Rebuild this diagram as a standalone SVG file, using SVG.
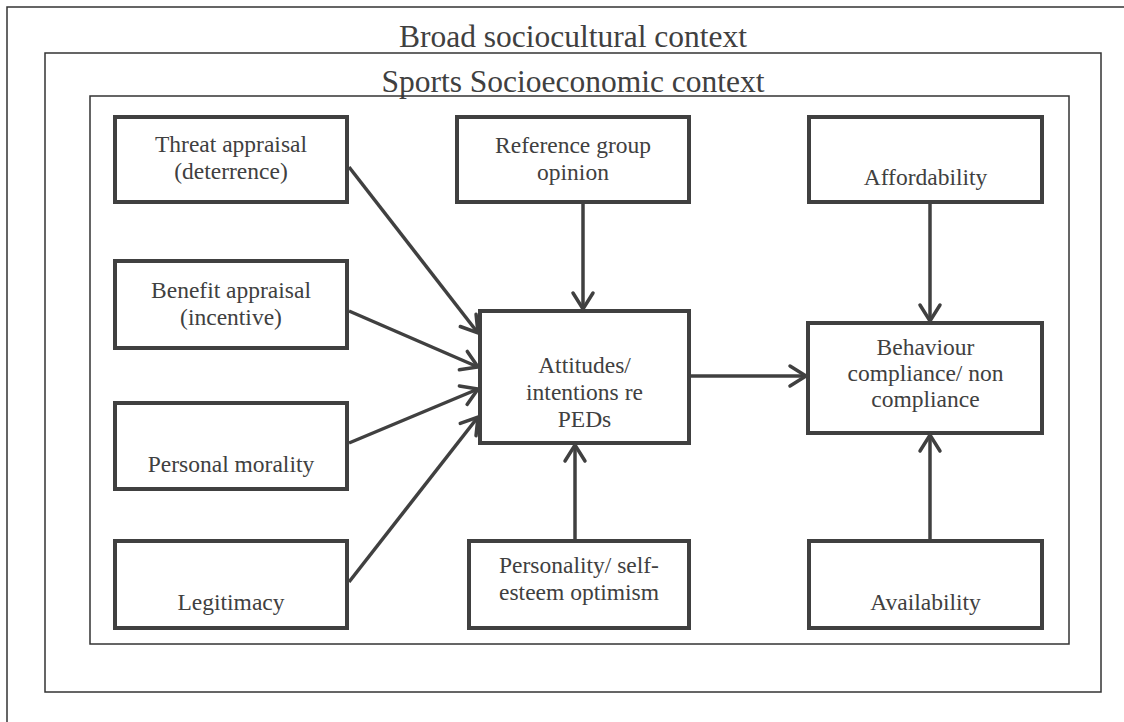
<svg xmlns="http://www.w3.org/2000/svg" width="1124" height="722" viewBox="0 0 1124 722">
  <style>
    .frame { fill: none; stroke: #333333; stroke-width: 1.5; }
    .node rect { fill: #ffffff; stroke: #404040; stroke-width: 4; }
    .node text, .title { font-family: "Liberation Serif", "Times New Roman", serif; fill: #404040; text-anchor: middle; }
    .node text { font-size: 23.5px; }
    .title { font-size: 31.5px; }
    .conn line { stroke: #404040; stroke-width: 3.5; }
  </style>
  <defs>
    <marker id="ah" viewBox="-20 -14 24 28" refX="0" refY="0" markerWidth="24" markerHeight="28" markerUnits="userSpaceOnUse" orient="auto">
      <path d="M-16,-10 L0,0 L-16,10" fill="none" stroke="#404040" stroke-width="3.5" stroke-linecap="round" stroke-linejoin="miter"/>
    </marker>
  </defs>
  <rect width="1124" height="722" fill="#ffffff"/>

  <g id="broad-context">
    <rect class="frame" x="7" y="7" width="1130" height="730"/>
    <text class="title" x="573" y="47">Broad sociocultural context</text>
  </g>
  <g id="sports-context">
    <rect class="frame" x="45" y="53" width="1056" height="639"/>
    <text class="title" x="573" y="92">Sports Socioeconomic context</text>
    <rect class="frame" x="90" y="96" width="979" height="548"/>
  </g>

  <g id="threat" class="node">
    <rect x="115" y="117" width="232" height="85"/>
    <text x="231" y="152">Threat appraisal</text>
    <text x="231" y="179">(deterrence)</text>
  </g>
  <g id="benefit" class="node">
    <rect x="115" y="261" width="232" height="87"/>
    <text x="231" y="298">Benefit appraisal</text>
    <text x="231" y="325">(incentive)</text>
  </g>
  <g id="morality" class="node">
    <rect x="115" y="403" width="232" height="86"/>
    <text x="231" y="472">Personal morality</text>
  </g>
  <g id="legitimacy" class="node">
    <rect x="115" y="541" width="232" height="87"/>
    <text x="231" y="610">Legitimacy</text>
  </g>
  <g id="reference" class="node">
    <rect x="457" y="117" width="232" height="85"/>
    <text x="573" y="153">Reference group</text>
    <text x="573" y="180">opinion</text>
  </g>
  <g id="attitudes" class="node">
    <rect x="480" y="311" width="209" height="132"/>
    <text x="584.5" y="373">Attitudes/</text>
    <text x="584.5" y="400">intentions re</text>
    <text x="584.5" y="427">PEDs</text>
  </g>
  <g id="personality" class="node">
    <rect x="469" y="541" width="220" height="87"/>
    <text x="579" y="573">Personality/ self-</text>
    <text x="579" y="600">esteem optimism</text>
  </g>
  <g id="affordability" class="node">
    <rect x="809" y="117" width="233" height="85"/>
    <text x="925.5" y="185">Affordability</text>
  </g>
  <g id="behaviour" class="node">
    <rect x="808" y="323" width="234" height="110"/>
    <text x="925.5" y="355">Behaviour</text>
    <text x="925.5" y="381">compliance/ non</text>
    <text x="925.5" y="407">compliance</text>
  </g>
  <g id="availability" class="node">
    <rect x="809" y="541" width="233" height="87"/>
    <text x="925.5" y="610">Availability</text>
  </g>

  <g id="connectors" class="conn">
    <line x1="349" y1="167" x2="478" y2="333" marker-end="url(#ah)"/>
    <line x1="349" y1="311" x2="478" y2="367" marker-end="url(#ah)"/>
    <line x1="349" y1="443" x2="478" y2="389" marker-end="url(#ah)"/>
    <line x1="349" y1="582" x2="478" y2="417" marker-end="url(#ah)"/>
    <line x1="583" y1="204" x2="583" y2="309" marker-end="url(#ah)"/>
    <line x1="575" y1="539" x2="575" y2="445" marker-end="url(#ah)"/>
    <line x1="691" y1="376" x2="806" y2="376" marker-end="url(#ah)"/>
    <line x1="930" y1="204" x2="930" y2="321" marker-end="url(#ah)"/>
    <line x1="930" y1="539" x2="930" y2="435" marker-end="url(#ah)"/>
  </g>
</svg>
